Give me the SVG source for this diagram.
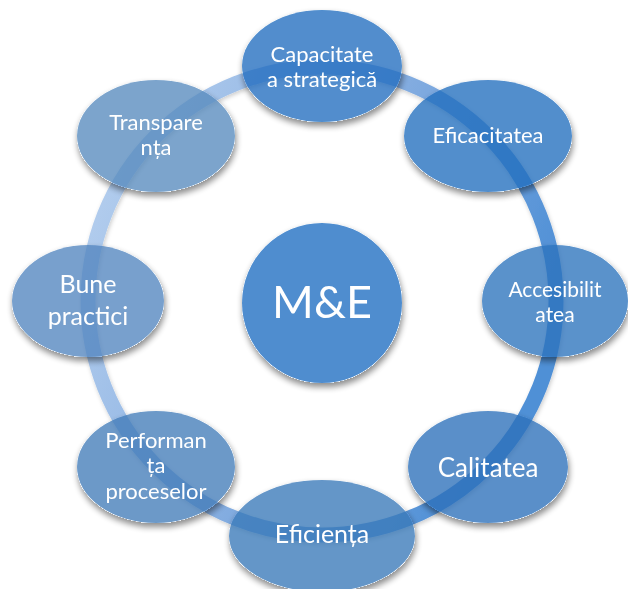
<svg xmlns="http://www.w3.org/2000/svg" width="628" height="589" viewBox="0 0 628 589">
<defs>
<linearGradient id="ringGrad" gradientUnits="userSpaceOnUse" x1="90" y1="180" x2="520" y2="360">
<stop offset="0" stop-color="#b4ceee"/>
<stop offset="0.5" stop-color="#88afe1"/>
<stop offset="1" stop-color="#5090d6"/>
</linearGradient>
<filter id="shadow" x="-20%" y="-20%" width="140%" height="150%">
<feComponentTransfer in="SourceAlpha" result="solid"><feFuncA type="linear" slope="20"/></feComponentTransfer>
<feGaussianBlur in="solid" stdDeviation="3"/>
<feOffset dx="1" dy="4"/>
<feComponentTransfer><feFuncA type="linear" slope="0.45"/></feComponentTransfer>
<feComposite in2="solid" operator="out" result="sh"/>
<feMerge><feMergeNode in="sh"/><feMergeNode in="SourceGraphic"/></feMerge>
</filter>
<filter id="ringShadow" x="-10%" y="-10%" width="120%" height="120%">
<feDropShadow dx="1" dy="2" stdDeviation="2" flood-color="#000" flood-opacity="0.2"/>
</filter>
</defs>
<style>
.node{fill-opacity:0.78}
.lbl{font-family:Lato,"Open Sans","Liberation Sans",sans-serif;fill:#ffffff;text-anchor:middle}
</style>
<rect width="628" height="589" fill="#ffffff"/>
<g id="connectors">
<circle cx="322" cy="301" r="234" fill="none" stroke="url(#ringGrad)" stroke-width="15" filter="url(#ringShadow)"/>
</g>
<g id="center" filter="url(#shadow)">
<circle cx="322" cy="303" r="80" fill="#4f8dcf"/>
<text class="lbl" x="322" y="318" font-size="45">M&amp;E</text>
</g>
<g id="capacitate" filter="url(#shadow)">
<ellipse class="node" cx="322" cy="66" rx="80" ry="56" fill="#1f6dbf"/>
<text class="lbl" font-size="22"><tspan x="322" y="62">Capacitate</tspan><tspan x="322" y="87">a strategică</tspan></text>
</g>
<g id="eficacitatea" filter="url(#shadow)">
<ellipse class="node" cx="488" cy="136" rx="84" ry="56" fill="#226ebe"/>
<text class="lbl" x="488" y="143" font-size="22">Eficacitatea</text>
</g>
<g id="accesibilitatea" filter="url(#shadow)">
<ellipse class="node" cx="555" cy="301" rx="73" ry="56" fill="#2a72bc"/>
<text class="lbl" font-size="21"><tspan x="555" y="297">Accesibilit</tspan><tspan x="555" y="322">atea</tspan></text>
</g>
<g id="calitatea" filter="url(#shadow)">
<ellipse class="node" cx="488" cy="467" rx="80" ry="56" fill="#2c70ba"/>
<text class="lbl" x="488" y="477" font-size="26">Calitatea</text>
</g>
<g id="eficienta" filter="url(#shadow)">
<ellipse class="node" cx="322" cy="536" rx="93" ry="56" fill="#3a78b8"/>
<text class="lbl" x="322" y="543" font-size="25">Eficiența</text>
</g>
<g id="performanta" filter="url(#shadow)">
<ellipse class="node" cx="156" cy="467" rx="79" ry="56" fill="#427cb8"/>
<text class="lbl" font-size="22"><tspan x="156" y="448">Performan</tspan><tspan x="156" y="473">ța</tspan><tspan x="156" y="499">proceselor</tspan></text>
</g>
<g id="bune-practici" filter="url(#shadow)">
<ellipse class="node" cx="88" cy="301" rx="76" ry="56" fill="#5285bf"/>
<text class="lbl" font-size="25"><tspan x="88" y="293">Bune</tspan><tspan x="88" y="325">practici</tspan></text>
</g>
<g id="transparenta" filter="url(#shadow)">
<ellipse class="node" cx="156" cy="136" rx="79" ry="56" fill="#578abe"/>
<text class="lbl" font-size="22"><tspan x="156" y="130">Transpare</tspan><tspan x="156" y="155">nța</tspan></text>
</g>
</svg>
